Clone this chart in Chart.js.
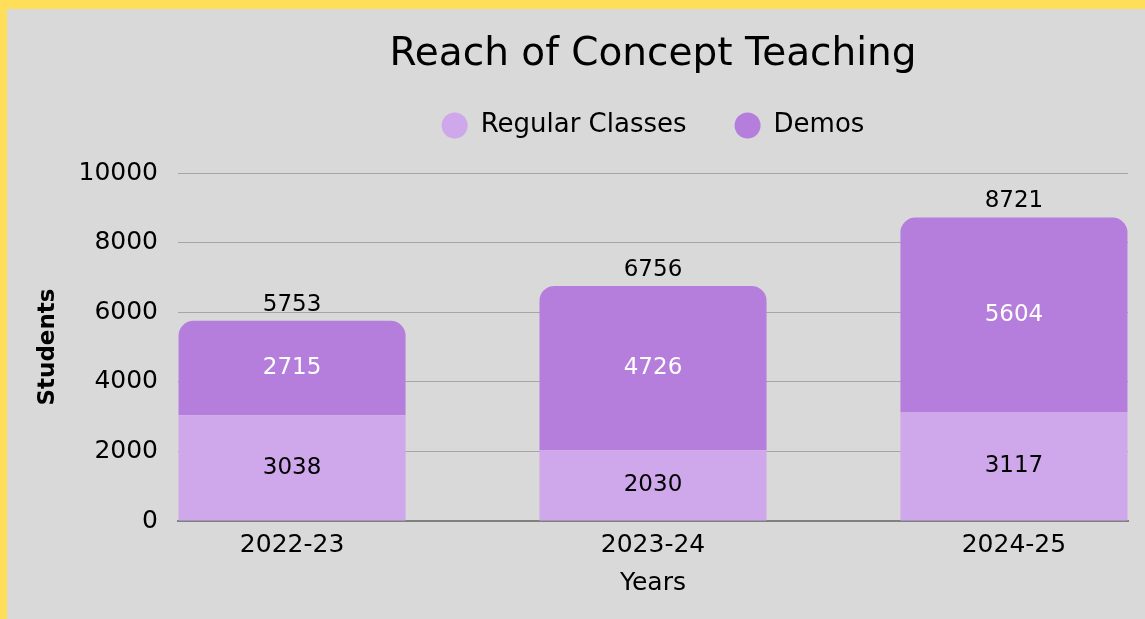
<!DOCTYPE html>
<html>
<head>
<meta charset="utf-8">
<script src="https://cdn.jsdelivr.net/npm/chart.js@4/dist/chart.umd.min.js"></script>
<style>
  html, body { margin: 0; padding: 0; background: #ffde59; width: 1145px; height: 619px; overflow: hidden; }
  #wrap { position: absolute; left: 7px; top: 9px; width: 1138px; height: 610px; background: #d9d9d9; }
  canvas { display: block; }
</style>
</head>
<body>
<div id="wrap"><canvas id="c" width="1138" height="610"></canvas></div>
<script>
const categories = ["2022-23", "2023-24", "2024-25"];
const regularClasses = [3038, 2030, 3117];
const demos = [2715, 4726, 5604];
const totals = [5753, 6756, 8721];
const yTicks = [0, 2000, 4000, 6000, 8000, 10000];

const FONT = "'DejaVu Sans', sans-serif";

const labelPlugin = {
  id: 'barLabels',
  afterDatasetsDraw(chart) {
    const ctx = chart.ctx;
    ctx.save();
    ctx.font = "23px " + FONT;
    ctx.textAlign = 'center';
    ctx.textBaseline = 'middle';
    chart.data.datasets.forEach((ds, di) => {
      const meta = chart.getDatasetMeta(di);
      meta.data.forEach((el, i) => {
        ctx.fillStyle = di === 0 ? '#000000' : '#ffffff';
        ctx.fillText(String(ds.data[i].y), el.x, (el.y + el.base) / 2);
      });
    });
    const top = chart.getDatasetMeta(chart.data.datasets.length - 1);
    top.data.forEach((el, i) => {
      ctx.fillStyle = '#000000';
      ctx.fillText(String(totals[i]), el.x, el.y - 16);
    });
    ctx.restore();
  }
};

const legendHeightPlugin = {
  id: 'legendHeight',
  beforeInit(chart) {
    const origFit = chart.legend.fit;
    chart.legend.fit = function () {
      origFit.call(this);
      this.height = 108.5;
    };
  }
};

new Chart(document.getElementById('c'), {
  type: 'bar',
  data: {
    datasets: [
      {
        label: 'Regular Classes',
        data: regularClasses.map((v, i) => ({ x: i, y: v })),
        backgroundColor: '#cfa7eb',
        borderWidth: 0,
        borderRadius: 0,
        categoryPercentage: 1,
        barPercentage: 0.629
      },
      {
        label: 'Demos',
        data: demos.map((v, i) => ({ x: i, y: v })),
        backgroundColor: '#b57edc',
        borderWidth: 0,
        borderRadius: { topLeft: 15, topRight: 15, bottomLeft: 0, bottomRight: 0 },
        borderSkipped: false,
        categoryPercentage: 1,
        barPercentage: 0.629
      }
    ]
  },
  options: {
    responsive: false,
    animation: false,
    layout: { padding: { left: 0, right: 17, top: 0, bottom: 21 } },
    plugins: {
      title: {
        display: true,
        text: 'Reach of Concept Teaching',
        color: '#000000',
        font: { family: FONT, size: 39, weight: 'normal', lineHeight: 0.5 },
        padding: { top: 36, bottom: 0 },
        fullSize: false
      },
      legend: {
        display: true,
        fullSize: false,
        labels: {
          color: '#000000',
          font: { family: FONT, size: 26, weight: 'normal' },
          usePointStyle: true,
          pointStyle: 'circle',
          boxWidth: 26,
          boxHeight: 18.4,
          padding: 48
        }
      },
      tooltip: { enabled: false }
    },
    scales: {
      x: {
        type: 'linear',
        stacked: true,
        offset: false,
        min: -0.316,
        max: 2.316,
        afterBuildTicks(scale) { scale.ticks = categories.map((c, i) => ({ value: i })); },
        afterFit(scale) { scale.height = 77; },
        ticks: {
          callback: (v) => categories[v],
          color: '#000000',
          font: { family: FONT, size: 25 },
          padding: 9,
          autoSkip: false,
          maxRotation: 0
        },
        grid: { display: false, drawTicks: false, offset: false },
        border: { display: true, color: '#808080', width: 2 },
        title: {
          display: true,
          text: 'Years',
          color: '#000000',
          font: { family: FONT, size: 25 },
          padding: { top: 0, bottom: 0 }
        }
      },
      y: {
        stacked: true,
        min: 0,
        max: 10000,
        afterBuildTicks(scale) { scale.ticks = yTicks.map(v => ({ value: v })); },
        afterFit(scale) { scale.width = 171; },
        ticks: {
          callback: (v) => String(v),
          color: '#000000',
          font: { family: FONT, size: 25 },
          padding: 20
        },
        grid: { color: '#a6a6a6', lineWidth: 1, drawTicks: false },
        border: { display: false },
        title: {
          display: true,
          text: 'Students',
          color: '#000000',
          font: { family: FONT, size: 23, weight: 'bold' },
          padding: { top: 27, bottom: 0 }
        }
      }
    }
  },
  plugins: [labelPlugin, legendHeightPlugin]
});
</script>
</body>
</html>
